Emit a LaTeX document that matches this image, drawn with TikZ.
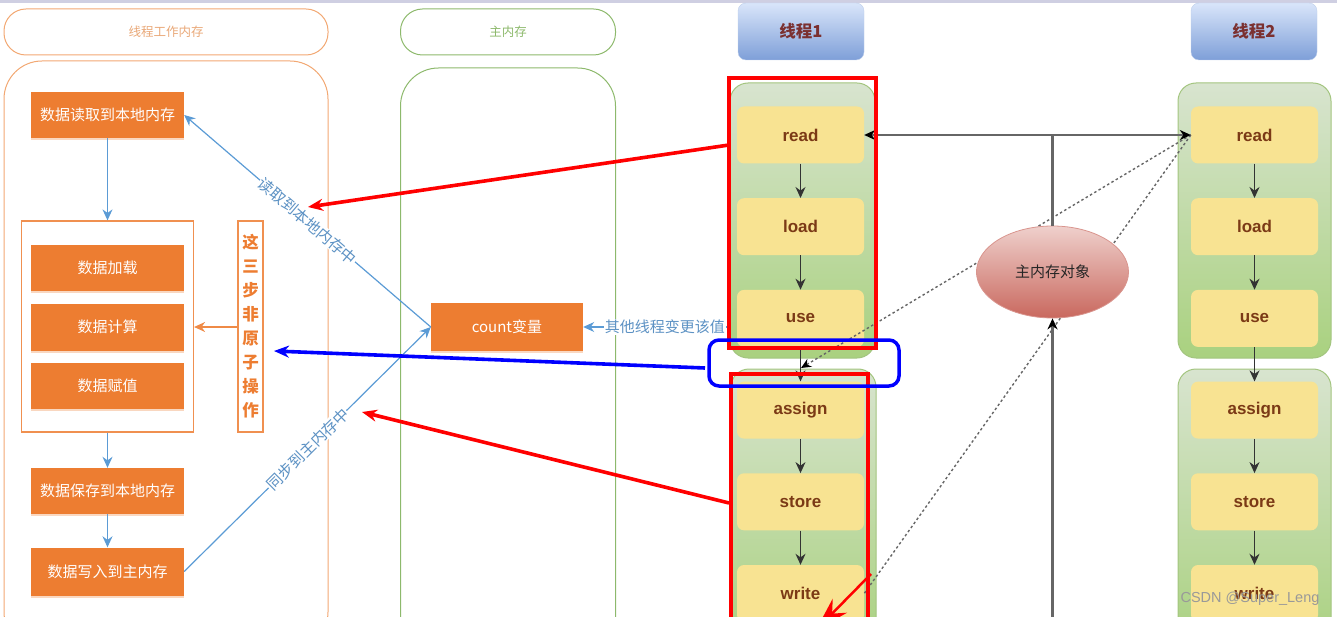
\documentclass[tikz,border=0pt]{standalone}
\usepackage{fontspec}
\setmainfont{Noto Sans CJK SC}
\newfontfamily\latinfont{Liberation Sans}
\usetikzlibrary{shapes,shapes.geometric,arrows.meta,shadows,calc}

\definecolor{orangebox}{HTML}{ED7D31}
\definecolor{orangeline}{HTML}{F2A873}
\definecolor{orangehead}{HTML}{E9A878}
\definecolor{greenline}{HTML}{8DB96C}
\definecolor{bluelink}{HTML}{5B9BD5}
\definecolor{bluetext}{HTML}{5D92C4}
\definecolor{stepyellow}{HTML}{F8E392}
\definecolor{stepbrown}{HTML}{7B3A16}
\definecolor{paneltop}{HTML}{D8E4CF}
\definecolor{panelbottom}{HTML}{A9D17F}
\definecolor{headtop}{HTML}{D9E5FA}
\definecolor{headbottom}{HTML}{7E9FD8}
\definecolor{headtext}{HTML}{7B3030}
\definecolor{ovaltop}{HTML}{EFD0CC}
\definecolor{ovalbottom}{HTML}{C9685E}

\begin{document}
\begin{tikzpicture}[%
x=1pt,y=-1pt,
>=stealth,
node distance=91.7pt,
outerbox/.style={draw,rectangle,rounded corners=#1,line width=1pt,inner sep=0pt},
orangestep/.style={rectangle,fill=orangebox,text=white,inner sep=0pt,minimum width=153pt,font=\fontsize{15}{15}\selectfont,drop shadow={shadow xshift=0pt,shadow yshift=-2pt,opacity=.3,fill=orangebox}},
threadhead/.style={rectangle,rounded corners=8pt,draw=headbottom!50,top color=headtop,bottom color=headbottom,minimum width=126pt,minimum height=57pt,text=headtext,font=\fontsize{16.5}{16.5}\selectfont\bfseries},
panel/.style={rectangle,rounded corners=18pt,draw=panelbottom!85!gray,line width=1pt,top color=paneltop,bottom color=panelbottom,inner sep=0pt},
opstep/.style={rectangle,rounded corners=7pt,fill=stepyellow,text=stepbrown,minimum width=127pt,minimum height=57pt,font=\fontsize{17}{17}\latinfont\bfseries},
bluearrow/.style={-{Stealth[length=11pt,width=10pt]},bluelink,line width=1.2pt},
steparrow/.style={-{Stealth[length=11pt,width=10pt]},black!80,line width=1.3pt},
grayline/.style={black!60,line width=2.4pt},
dotline/.style={black!60,line width=1.4pt,dash pattern=on 2.5pt off 2.5pt},
slopedlabel/.style={midway,sloped,fill=white,inner sep=0.5pt,text=bluetext,font=\fontsize{15.5}{15.5}\selectfont},
markrect/.style={rectangle,draw=red,line width=4pt,inner sep=0pt},
markarrow/.style={-{Stealth[length=15pt,width=12pt]},red,line width=3.6pt}
]
\path[use as bounding box,clip] (0,0) rectangle (1337,617);
\fill[blue!25!gray!30] (0,0) rectangle (1337,3);

% left side
\node[outerbox=22pt,draw=orangeline,minimum width=324pt,minimum height=46pt,text=orangehead,font=\fontsize{12.5}{12.5}\selectfont] (workhead) at (166,32) {线程工作内存};
\node[outerbox=38pt,draw=orangeline,minimum width=324pt,minimum height=589pt] (workmem) at (166,355.5) {};
\node[outerbox=22pt,draw=greenline,minimum width=215pt,minimum height=46pt,text=greenline,font=\fontsize{12.5}{12.5}\selectfont] (mainhead) at (508,32) {主内存};
\node[outerbox=38pt,draw=greenline,minimum width=215pt,minimum height=589pt] (mainmem) at (508,362.5) {};

\node[rectangle,draw=orangebox!85,line width=1.2pt,fill=white,minimum width=172pt,minimum height=211pt,inner sep=0pt] (group) at (107.5,326.5) {};
\node[orangestep,minimum height=46pt] (readlocal) at (107.5,115) {数据读取到本地内存};
\node[orangestep,minimum height=46pt] (dataload) at (107.5,268) {数据加载};
\node[orangestep,minimum height=47pt] (datacalc) at (107.5,327) {数据计算};
\node[orangestep,minimum height=46pt] (dataset) at (107.5,386) {数据赋值};
\node[orangestep,minimum height=46pt] (savelocal) at (107.5,491) {数据保存到本地内存};
\node[orangestep,minimum height=48pt] (writemain) at (107.5,571.5) {数据写入到主内存};
\node[orangestep,minimum width=152pt,minimum height=48pt] (count) at (507,327) {count变量};

\node[rectangle,draw=orangebox!85,line width=1.2pt,fill=white,minimum width=25pt,minimum height=211pt,inner sep=0pt,text=orangebox,align=center,font=\fontsize{16.5}{24}\selectfont\bfseries] (atomic) at (250.5,326.5) {这\\三\\步\\非\\原\\子\\操\\作};

\path[->] (readlocal) edge [bluearrow] (group);
\path[->] (group) edge [bluearrow] (savelocal);
\path[->] (savelocal) edge [bluearrow] (writemain);
\draw[-{Stealth[length=11pt,width=10pt]},orangebox!90,line width=1.2pt] (atomic.west |- datacalc) -- (group.east |- datacalc);
\draw[bluearrow] (count.west) -- node[slopedlabel] {读取到本地内存中} (readlocal.east);
\draw[bluearrow] (writemain.east) -- node[slopedlabel] {同步到主内存中} (count.west);

% threads
\node[threadhead] (thread1) at (801,31.5) {线程1};
\node[threadhead] (thread2) at (1254,31.5) {线程2};

\node[panel,minimum width=145pt,minimum height=275pt] (panel1a) at (802.5,220.5) {};
\node[panel,minimum width=145pt,minimum height=280pt] (panel1b) at (803.5,509) {};
\node[panel,minimum width=153pt,minimum height=275pt] (panel2a) at (1254.5,220.5) {};
\node[panel,minimum width=153pt,minimum height=280pt] (panel2b) at (1254.5,509) {};

\node[opstep] (read1) at (800.5,135) {read};
\node[opstep] (load1) [below of=read1] {load};
\node[opstep] (use1) [below of=load1] {use};
\node[opstep] (assign1) [below of=use1] {assign};
\node[opstep] (store1) [below of=assign1] {store};
\node[opstep] (write1) [below of=store1] {write};

\node[opstep] (read2) at (1254.5,135) {read};
\node[opstep] (load2) [below of=read2] {load};
\node[opstep] (use2) [below of=load2] {use};
\node[opstep] (assign2) [below of=use2] {assign};
\node[opstep] (store2) [below of=assign2] {store};
\node[opstep] (write2) [below of=store2] {write};

\path[->] (read1) edge [steparrow] (load1);
\path[->] (load1) edge [steparrow] (use1);
\path[->] (use1) edge [steparrow] (assign1);
\path[->] (assign1) edge [steparrow] (store1);
\path[->] (store1) edge [steparrow] (write1);
\path[->] (read2) edge [steparrow] (load2);
\path[->] (load2) edge [steparrow] (use2);
\path[->] (use2) edge [steparrow] (assign2);
\path[->] (assign2) edge [steparrow] (store2);
\path[->] (store2) edge [steparrow] (write2);

% main memory object
\coordinate (gap) at (801,368);
\draw[dotline,-{Stealth[length=10pt,width=9pt,color=black]}] (read2.west) -- (gap);
\draw[dotline] (read2.west) -- (write1.east);
\node[ellipse,draw=ovalbottom!70,line width=.8pt,top color=ovaltop,bottom color=ovalbottom,minimum width=152pt,minimum height=92pt,inner sep=0pt,text=black!85,font=\fontsize{15}{15}\selectfont] (memobj) at (1052.5,272) {主内存对象};
\coordinate (joint) at (memobj.north |- read1);
\coordinate (bottomend) at (1052.5,630);
\draw[grayline] (memobj.north) -- (joint);
\draw[grayline,-{Stealth[length=11pt,width=10pt,color=black]}] (joint) -- (read1.east);
\draw[grayline,-{Stealth[length=11pt,width=10pt,color=black]}] (joint) -- (read2.west);
\draw[grayline,-{Stealth[length=11pt,width=10pt,color=black]}] (bottomend) -- (memobj.south);

\coordinate (otheredge) at (729,327);
\draw[bluearrow] (otheredge) -- node[pos=.44,fill=white,inner sep=1pt,text=bluetext,font=\fontsize{15}{15}\selectfont] {其他线程变更该值} (count.east);

% marks
\node[markrect,minimum width=147pt,minimum height=270pt] (redtop) at (802.5,213) {};
\node[markrect,minimum width=137pt,minimum height=270pt] (redbottom) at (799.5,509) {};
\node[rectangle,draw=blue,line width=3.5pt,rounded corners=10pt,minimum width=190pt,minimum height=46pt,inner sep=0pt] (bluering) at (804,363) {};

\coordinate (redstart1) at (729,145);
\coordinate (redend1) at (308,207);
\coordinate (redstart2) at (729,503);
\coordinate (redend2) at (362,412);
\coordinate (redstart3) at (871,574);
\coordinate (redend3) at (816,630);
\coordinate (bluestart) at (705,368);
\coordinate (blueend) at (274,351);
\draw[markarrow] (redstart1) -- (redend1);
\draw[markarrow] (redstart2) -- (redend2);
\draw[-{Stealth[length=34pt,width=20pt]},red,line width=2.5pt] (redstart3) -- (redend3);
\draw[-{Stealth[length=15pt,width=12pt]},blue,line width=3.6pt] (bluestart) -- (blueend);

\node[text=black!40,font=\fontsize{14.5}{14.5}\latinfont] (mark) at (1250,599) {CSDN @Super\_Leng};
\end{tikzpicture}
\end{document}
